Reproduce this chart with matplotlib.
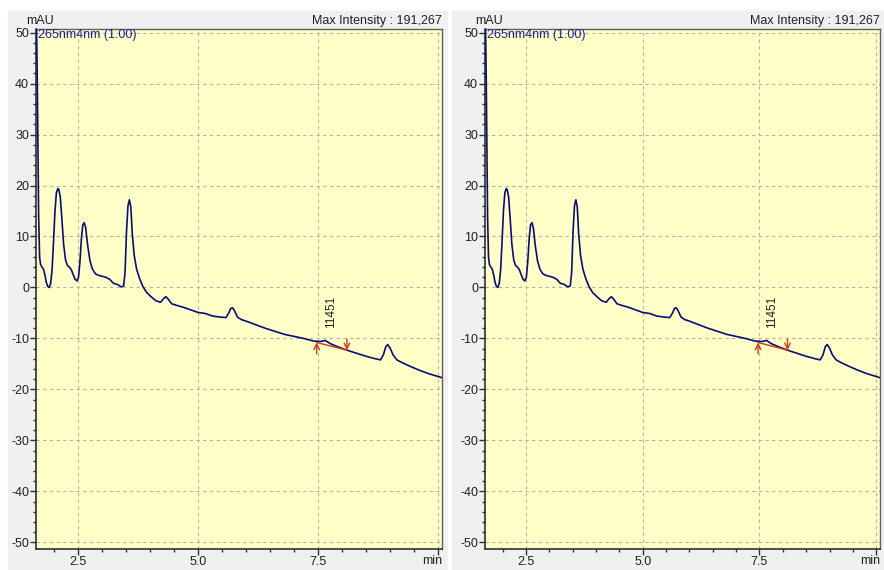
import matplotlib
matplotlib.use("Agg")
import matplotlib.pyplot as plt
from matplotlib.patches import Rectangle
from matplotlib.ticker import MultipleLocator

plt.rcParams["font.family"] = ["Liberation Sans", "DejaVu Sans"]
plt.rcParams["axes.unicode_minus"] = False

# Chromatogram (time in min, signal in mAU)
time_min = [1.625, 1.635, 1.65, 1.665, 1.68, 1.70, 1.72, 1.75, 1.78, 1.81,
            1.84, 1.87, 1.90, 1.93, 1.96, 1.99, 2.02, 2.05, 2.08, 2.10,
            2.13, 2.16, 2.20, 2.24, 2.28, 2.32, 2.36, 2.40, 2.44, 2.48,
            2.51, 2.54, 2.57, 2.60, 2.63, 2.66, 2.70, 2.75, 2.80, 2.86,
            2.92, 3.00, 3.08, 3.16, 3.24, 3.32, 3.40, 3.45, 3.48, 3.51,
            3.54, 3.57, 3.60, 3.63, 3.67, 3.72, 3.78, 3.85, 3.93, 4.02,
            4.12, 4.22, 4.28, 4.33, 4.38, 4.45, 4.55, 4.70, 4.85, 5.00,
            5.15, 5.30, 5.45, 5.58, 5.64, 5.68, 5.72, 5.76, 5.82, 5.90,
            6.00, 6.20, 6.40, 6.60, 6.80, 7.00, 7.20, 7.40, 7.55, 7.65,
            7.75, 7.90, 8.10, 8.30, 8.50, 8.70, 8.80, 8.86, 8.91, 8.95,
            9.00, 9.06, 9.14, 9.24, 9.40, 9.60, 9.80, 10.08]
signal_mau = [60.0, 52.0, 42.0, 28.0, 14.0, 6.0, 4.5, 4.0, 3.6, 2.5,
              1.0, 0.2, 0.0, 0.8, 3.5, 9.0, 15.0, 18.6, 19.4, 19.2,
              17.8, 14.0, 8.5, 5.4, 4.3, 4.0, 3.5, 2.5, 1.6, 1.3,
              2.0, 5.0, 9.5, 12.3, 12.7, 11.7, 8.3, 5.2, 3.6, 2.7,
              2.4, 2.2, 2.0, 1.6, 0.8, 0.6, 0.1, 0.3, 3.0, 11.0,
              16.0, 17.2, 15.8, 10.5, 6.3, 3.6, 1.8, 0.2, -1.0, -1.8,
              -2.6, -2.9, -2.2, -1.8, -2.3, -3.2, -3.5, -3.9, -4.4, -4.9,
              -5.1, -5.6, -5.8, -5.9, -5.0, -4.1, -4.0, -4.6, -5.8, -6.3,
              -6.6, -7.3, -8.0, -8.6, -9.2, -9.6, -10.0, -10.5, -10.6, -10.4,
              -11.0, -11.6, -12.3, -12.9, -13.5, -14.0, -14.2, -13.2, -11.6, -11.2,
              -11.9, -13.2, -14.2, -14.7, -15.4, -16.2, -16.9, -17.7]

# integrated peak: start / end of baseline and its label
peak_start = (7.47, -10.8)
peak_end = (8.10, -12.3)
peak_label = "11451"

x_ticks = [2.5, 5.0, 7.5, 10.0]
x_tick_labels = ["2.5", "5.0", "7.5", ""]
y_ticks = [50, 40, 30, 20, 10, 0, -10, -20, -30, -40, -50]

channel_label = "265nm4nm (1.00)"
max_label = "Max Intensity : 191,267"

W, H = 884, 570
BG_PANEL = "#f0f0f0"
BG_PLOT = "#ffffc8"
LINE = "#0c0c78"
RED = "#c83c1e"
FS = 9


def draw_panel(fig, ax_px, bg_px):
    # ax_px: (left, right, top, bottom) in pixels; bg_px: (left, right, top)
    bl, br, bt = bg_px
    fig.patches.append(Rectangle((bl / W, 0), (br - bl) / W, 1 - bt / H,
                                 transform=fig.transFigure, color=BG_PANEL,
                                 zorder=-10))
    l, r, t, b = ax_px
    ax = fig.add_axes([l / W, 1 - b / H, (r - l) / W, (b - t) / H])
    ax.set_facecolor(BG_PLOT)
    ax.plot(time_min, signal_mau, color=LINE, lw=1.2, zorder=3)

    ax.set_xlim(1.625, 10.08)
    ax.set_ylim(-51.3, 50.7)
    ax.set_xticks(x_ticks)
    ax.set_xticklabels(x_tick_labels)
    ax.set_yticks(y_ticks)
    ax.xaxis.set_minor_locator(MultipleLocator(0.5))
    ax.yaxis.set_minor_locator(MultipleLocator(2))
    ax.tick_params(which="major", length=4, width=1, color="#303030",
                   labelsize=FS, pad=1, labelcolor="#202020")
    ax.tick_params(which="minor", length=2.5, width=1, color="#303030")
    ax.grid(True, which="major", color="#b4b4a0", lw=0.8,
            linestyle=(0, (3, 3)))
    for side in ["left", "bottom"]:
        ax.spines[side].set_color("#303030")
        ax.spines[side].set_linewidth(1.2)
    for side in ["top", "right"]:
        ax.spines[side].set_color("#606060")
        ax.spines[side].set_linewidth(1.0)

    # integration baseline and markers
    ax.plot([peak_start[0], peak_end[0]], [peak_start[1], peak_end[1]],
            color=RED, lw=1.0, zorder=4)
    ax.annotate("", xy=peak_start, xytext=(peak_start[0], peak_start[1] - 2.2),
                arrowprops=dict(arrowstyle="->", color=RED, lw=1.0,
                                shrinkA=0, shrinkB=0), zorder=5)
    ax.annotate("", xy=peak_end, xytext=(peak_end[0], peak_end[1] + 2.2),
                arrowprops=dict(arrowstyle="->", color=RED, lw=1.0,
                                shrinkA=0, shrinkB=0), zorder=5)
    ax.text(7.77, -8.0, peak_label, rotation=90, ha="center", va="bottom",
            fontsize=8.5, color="#202020")

    ax.text(0.004, 1.0, channel_label, transform=ax.transAxes, ha="left",
            va="top", fontsize=FS, color="#1c1c9c")
    ax.text(0.01, 1.003, "mAU", transform=ax.transAxes, ha="center",
            va="bottom", fontsize=FS, color="#202020")
    ax.text(1.0, 1.003, max_label, transform=ax.transAxes, ha="right",
            va="bottom", fontsize=FS, color="#202020")
    ax.text(1.0, -0.012, "min", transform=ax.transAxes, ha="right",
            va="top", fontsize=FS, color="#202020")
    return ax


fig = plt.figure(figsize=(W / 100, H / 100), dpi=100)
fig.patch.set_facecolor("white")

draw_panel(fig, (36, 442, 29, 549), (8, 447, 11))
draw_panel(fig, (485, 880, 29, 549), (452, 884, 11))

fig.savefig("out.png", dpi=100, facecolor=fig.get_facecolor())
